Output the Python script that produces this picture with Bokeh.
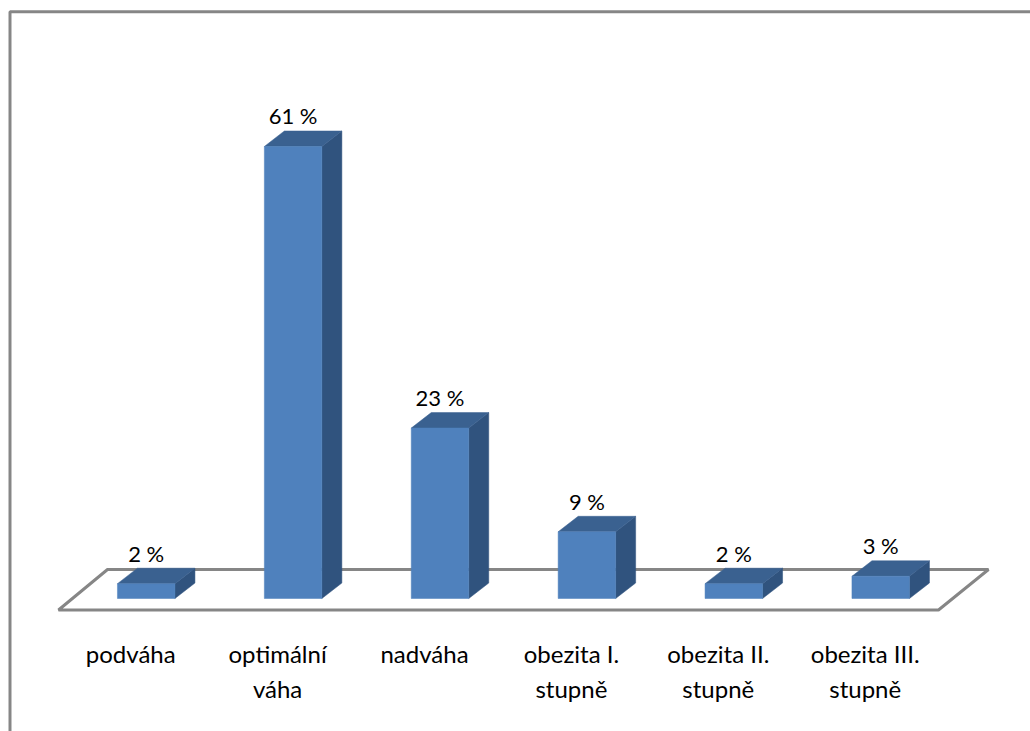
from bokeh.core.properties import value
from bokeh.embed import file_html
from bokeh.models import Range1d
from bokeh.plotting import figure
from bokeh.resources import INLINE

# Chart data
categories = ["podváha", "optimální\nváha", "nadváha", "obezita I.\nstupně", "obezita II.\nstupně", "obezita III.\nstupně"]
percent = [2, 61, 23, 9, 2, 3]

WIDTH, HEIGHT = 1030, 731
FIRST_CENTRE_PX = 145.7
SPACING_PX = 146.9
BASE_PX = 598.0
PX_PER_PCT = 7.41

BAR_W = 57.5 / SPACING_PX
DEPTH_X = 20 / SPACING_PX
DEPTH_Y = 15.5 / PX_PER_PCT


def xu(px):
    """Horizontal pixel position expressed in category units."""
    return (px - FIRST_CENTRE_PX) / SPACING_PX


def yu(px):
    """Vertical pixel position (from the top) expressed in percent."""
    return (BASE_PX - px) / PX_PER_PCT


p = figure(
    width=WIDTH, height=HEIGHT, output_backend="svg", toolbar_location=None,
    x_range=Range1d(xu(0), xu(WIDTH)), y_range=Range1d(yu(HEIGHT), yu(0)),
    min_border=0, outline_line_color=None, background_fill_color="white",
)
p.xaxis.visible = False
p.yaxis.visible = False
p.grid.visible = False

# Outer frame: top and left edges only
FRAME = "#868686"
p.line([xu(9.5), xu(9.5), xu(WIDTH)], [yu(HEIGHT), yu(11.3), yu(11.3)], line_color=FRAME, line_width=3)

# Perspective floor
p.patch(
    [xu(58), xu(107), xu(988), xu(938)],
    [yu(609.5), yu(569), yu(569), yu(609.5)],
    fill_color="white", line_color=FRAME, line_width=3,
)

# Three faces of each column
xs = list(range(len(percent)))
left = [x - BAR_W / 2 for x in xs]
right = [x + BAR_W / 2 for x in xs]

p.patches(
    [[r, r + DEPTH_X, r + DEPTH_X, r] for r in right],
    [[0, DEPTH_Y, v + DEPTH_Y, v] for v in percent],
    fill_color="#30537E", line_color="#30537E", line_width=0.5,
)
p.patches(
    [[l, l + DEPTH_X, r + DEPTH_X, r] for l, r in zip(left, right)],
    [[v, v + DEPTH_Y, v + DEPTH_Y, v] for v in percent],
    fill_color="#3A6190", line_color="#3A6190", line_width=0.5,
)
p.vbar(x=xs, width=BAR_W, bottom=0, top=percent, fill_color="#4F81BD", line_color="#4F81BD", line_width=0.5)

FONT = value("Lato")

# Value labels above the columns
p.text(
    x=xs,
    y=[v + 30.5 / PX_PER_PCT for v in percent],
    text=[f"{v} %" for v in percent],
    text_font=FONT, text_font_size="22px", text_color="black",
    text_align="center", text_baseline="middle",
)

# Category labels, one glyph call per text row
LABEL_X = [x - 15.5 / SPACING_PX for x in xs]
rows = [c.split("\n") for c in categories]
for row, row_px in enumerate((652.5, 688)):
    idx = [i for i, r in enumerate(rows) if len(r) > row]
    p.text(
        x=[LABEL_X[i] for i in idx],
        y=[yu(row_px)] * len(idx),
        text=[rows[i][row] for i in idx],
        text_font=FONT, text_font_size="24px", text_color="black",
        text_align="center", text_baseline="middle",
    )

open("out.html", "w").write(file_html(p, INLINE))
